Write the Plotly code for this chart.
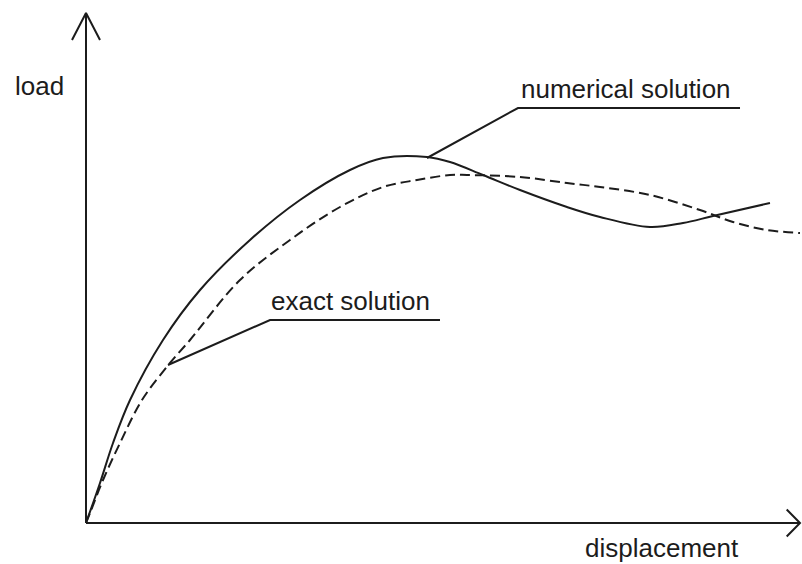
import plotly.graph_objects as go

# ---- data (displacement, load) in arbitrary units ----
num_x = [0, 0.20, 0.386, 0.629, 1.10, 1.629, 2.343, 3.057, 3.771, 4.243, 4.871, 5.20, 5.671, 6.20, 6.871, 7.343, 8.057, 8.529, 8.957, 9.771]
num_y = [0, 0.80, 1.60, 2.46, 3.66, 4.66, 5.66, 6.46, 7.06, 7.30, 7.32, 7.22, 6.96, 6.66, 6.32, 6.12, 5.92, 6.00, 6.14, 6.40]

ex_x = [0, 0.057, 0.243, 0.486, 0.80, 1.20, 1.486, 2.20, 2.914, 3.629, 4.243, 4.729, 5.20, 5.443, 6.20, 6.871, 7.343, 8.057, 8.771, 9.243, 9.729, 10.2]
ex_y = [0, 0.20, 0.86, 1.60, 2.46, 3.20, 3.66, 4.86, 5.66, 6.32, 6.72, 6.86, 6.96, 6.96, 6.92, 6.80, 6.72, 6.56, 6.26, 6.02, 5.86, 5.80]

axis_x_end = 10.2
axis_y_end = 10.2

labels = {"x": "displacement", "y": "load", "num": "numerical solution", "exact": "exact solution"}

# leader points: curve point, elbow, underline end
num_leader_x = [4.871, 6.171, 9.343]
num_leader_y = [7.30, 8.30, 8.30]
ex_leader_x = [1.171, 2.629, 5.057]
ex_leader_y = [3.16, 4.06, 4.06]

INK = "#1c1c1c"
FONT = dict(family="Liberation Sans, Arial, sans-serif", size=26, color=INK)

fig = go.Figure()

# axes with open arrowheads
fig.add_trace(go.Scatter(x=[0, axis_x_end], y=[0, 0], mode="lines",
                         line=dict(color=INK, width=2), hoverinfo="skip"))
fig.add_trace(go.Scatter(x=[axis_x_end - 0.19, axis_x_end, axis_x_end - 0.19],
                         y=[0.27, 0, -0.27], mode="lines",
                         line=dict(color=INK, width=2), hoverinfo="skip"))
fig.add_trace(go.Scatter(x=[0, 0], y=[0, axis_y_end], mode="lines",
                         line=dict(color=INK, width=2), hoverinfo="skip"))
fig.add_trace(go.Scatter(x=[-0.2, 0, 0.2],
                         y=[axis_y_end - 0.54, axis_y_end, axis_y_end - 0.54], mode="lines",
                         line=dict(color=INK, width=2), hoverinfo="skip"))

# curves
fig.add_trace(go.Scatter(x=ex_x, y=ex_y, mode="lines", line_shape="spline",
                         line=dict(color=INK, width=2, dash="10px,5px"), hoverinfo="skip"))
fig.add_trace(go.Scatter(x=num_x, y=num_y, mode="lines", line_shape="spline",
                         line=dict(color=INK, width=2), hoverinfo="skip"))

# leaders
fig.add_trace(go.Scatter(x=num_leader_x, y=num_leader_y, mode="lines",
                         line=dict(color=INK, width=2), hoverinfo="skip"))
fig.add_trace(go.Scatter(x=ex_leader_x, y=ex_leader_y, mode="lines",
                         line=dict(color=INK, width=2), hoverinfo="skip"))

ann = [
    dict(x=num_leader_x[1] + 0.03, y=num_leader_y[1] + 0.06, text=labels["num"],
         xanchor="left", yanchor="bottom"),
    dict(x=ex_leader_x[1] + 0.0, y=ex_leader_y[1] + 0.06, text=labels["exact"],
         xanchor="left", yanchor="bottom"),
    dict(x=-1.03, y=8.75, text=labels["y"], xanchor="left", yanchor="middle"),
    dict(x=7.11, y=-0.50, text=labels["x"], xanchor="left", yanchor="middle"),
]
for a in ann:
    fig.add_annotation(**a, showarrow=False, font=FONT, borderpad=0)

kx, ky = 70.0, 50.0
fig.update_layout(
    width=802, height=564,
    margin=dict(l=0, r=0, t=0, b=0),
    paper_bgcolor="white", plot_bgcolor="white",
    showlegend=False,
    xaxis=dict(range=[-86 / kx, 716 / kx], visible=False, fixedrange=True),
    yaxis=dict(range=[-41 / ky, 523 / ky], visible=False, fixedrange=True),
)

fig.write_html("out.html")
